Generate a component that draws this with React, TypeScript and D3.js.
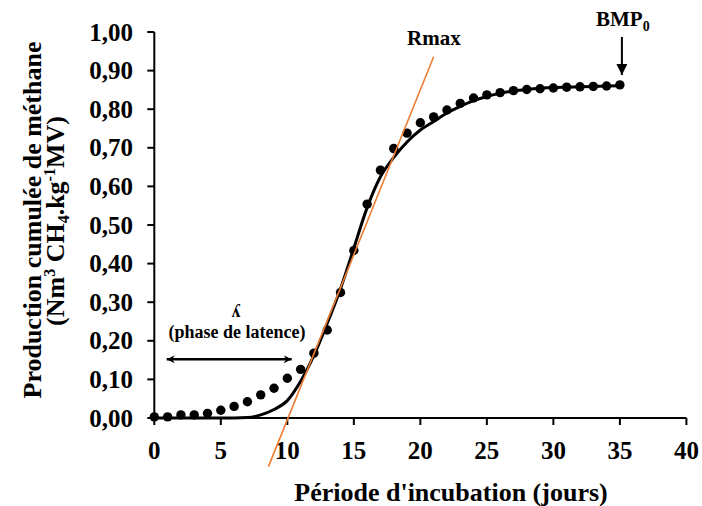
import React from "react";
import * as d3 from "d3";

const days = [0,1,2,3,4,5,6,7,8,9,10,11,12,13,14,15,16,17,18,19,20,21,22,23,24,25,26,27,28,29,30,31,32,33,34,35];
const observed = [0.003,0.003,0.008,0.008,0.012,0.02,0.03,0.042,0.06,0.077,0.103,0.126,0.168,0.228,0.325,0.434,0.554,0.642,0.698,0.738,0.765,0.78,0.798,0.815,0.829,0.837,0.843,0.848,0.851,0.853,0.855,0.857,0.858,0.859,0.86,0.863];
const modelFit = [0,0,0,0,0,0,0,0.001,0.008,0.022,0.045,0.095,0.162,0.245,0.335,0.44,0.545,0.625,0.675,0.715,0.746,0.768,0.79,0.807,0.822,0.833,0.841,0.847,0.851,0.854,0.856,0.857,0.858,0.859,0.86,0.861];
const rmaxX = [8.58, 21.0];
const rmaxY = [-0.126, 0.936];
const xTicks = [0,5,10,15,20,25,30,35,40];
const yTicks = [0,0.1,0.2,0.3,0.4,0.5,0.6,0.7,0.8,0.9,1.0];

const FONT = '"Liberation Serif"';

export default function App() {
  const W = 702, H = 506;
  const x = d3.scaleLinear().domain([0, 40]).range([154.3, 686.4]);
  const y = d3.scaleLinear().domain([0, 1]).range([418, 32]);
  const fmtY = (v: number) => d3.format(".2f")(v).replace(".", ",");

  const curve = d3.line<number>()
    .x((_, i) => x(days[i]))
    .y((d) => y(d))
    .curve(d3.curveMonotoneX)(modelFit) as string;

  const ts = { fontFamily: FONT, fontWeight: 700 } as React.CSSProperties;

  return (
    <svg width={W} height={H} style={{ position: "absolute", left: 0, top: 0, background: "#fff" }}>
      <defs>
        <marker id="ah" viewBox="0 0 10 10" refX="10" refY="5" markerWidth="8" markerHeight="8" markerUnits="userSpaceOnUse" orient="auto-start-reverse">
          <path d="M0,0 L10,5 L0,10 L3,5 Z" fill="#000" />
        </marker>
        <marker id="ahd" viewBox="0 0 10 10" refX="10" refY="5" markerWidth="11" markerHeight="11" markerUnits="userSpaceOnUse" orient="auto">
          <path d="M0,0 L10,5 L0,10 Z" fill="#000" />
        </marker>
      </defs>
      <rect width={W} height={H} fill="#fff" />

      {/* axes */}
      <line x1={x(0)} x2={x(0)} y1={y(1)} y2={y(0)} stroke="#000" strokeWidth={2} />
      <line x1={x(0)} x2={x(40)} y1={y(0)} y2={y(0)} stroke="#000" strokeWidth={2} />
      {yTicks.map((t) => (
        <g key={"y" + t}>
          <line x1={x(0) - 7} x2={x(0)} y1={y(t)} y2={y(t)} stroke="#000" strokeWidth={2} />
          <text x={133} y={y(t)} dy="0.34em" textAnchor="end" fontSize={25} style={ts}>{fmtY(t)}</text>
        </g>
      ))}
      {xTicks.map((t) => (
        <g key={"x" + t}>
          <line x1={x(t)} x2={x(t)} y1={y(0)} y2={y(0) + 7} stroke="#000" strokeWidth={2} />
          <text x={x(t)} y={459} textAnchor="middle" fontSize={25} style={ts}>{t}</text>
        </g>
      ))}

      {/* axis titles */}
      <text x={451} y={501} textAnchor="middle" fontSize={26} style={ts}>Période d'incubation (jours)</text>
      <g transform="translate(41,220) rotate(-90)">
        <text x={0} y={0} textAnchor="middle" fontSize={26} style={ts}>Production cumulée de méthane</text>
      </g>
      <g transform="translate(64,221) rotate(-90)">
        <text x={0} y={0} textAnchor="middle" fontSize={26} style={ts}>
          (Nm<tspan dy={-9} fontSize={16}>3</tspan><tspan dy={9}> CH</tspan><tspan dy={5} fontSize={16}>4</tspan><tspan dy={-5}>.kg</tspan><tspan dy={-9} fontSize={16}>-1</tspan><tspan dy={9}>MV)</tspan>
        </text>
      </g>

      {/* data points */}
      {observed.map((v, i) => (
        <circle key={"p" + i} cx={x(days[i])} cy={y(v)} r={4.7} fill="#000" />
      ))}

      {/* model curve */}
      <path d={curve} fill="none" stroke="#000" strokeWidth={3} />

      {/* Rmax tangent */}
      <line x1={x(rmaxX[0])} y1={y(rmaxY[0])} x2={x(rmaxX[1])} y2={y(rmaxY[1])} stroke="#ED7D31" strokeWidth={1.6} />
      <text x={407} y={45} fontSize={21} style={ts}>Rmax</text>

      {/* BMP0 */}
      <text x={596} y={26} fontSize={21} style={ts}>BMP<tspan dy={5} fontSize={14}>0</tspan></text>
      <line x1={x(35) + 2} x2={x(35) + 2} y1={37} y2={75} stroke="#000" strokeWidth={2} markerEnd="url(#ahd)" />

      {/* lambda */}
      <text x={236} y={317} textAnchor="middle" fontSize={18} style={ts}>ʎ</text>
      <text x={237} y={338} textAnchor="middle" fontSize={18} style={ts}>(phase de latence)</text>
      <line x1={166.7} x2={291.7} y1={359.3} y2={359.3} stroke="#000" strokeWidth={2.5} markerStart="url(#ah)" markerEnd="url(#ah)" />
    </svg>
  );
}
